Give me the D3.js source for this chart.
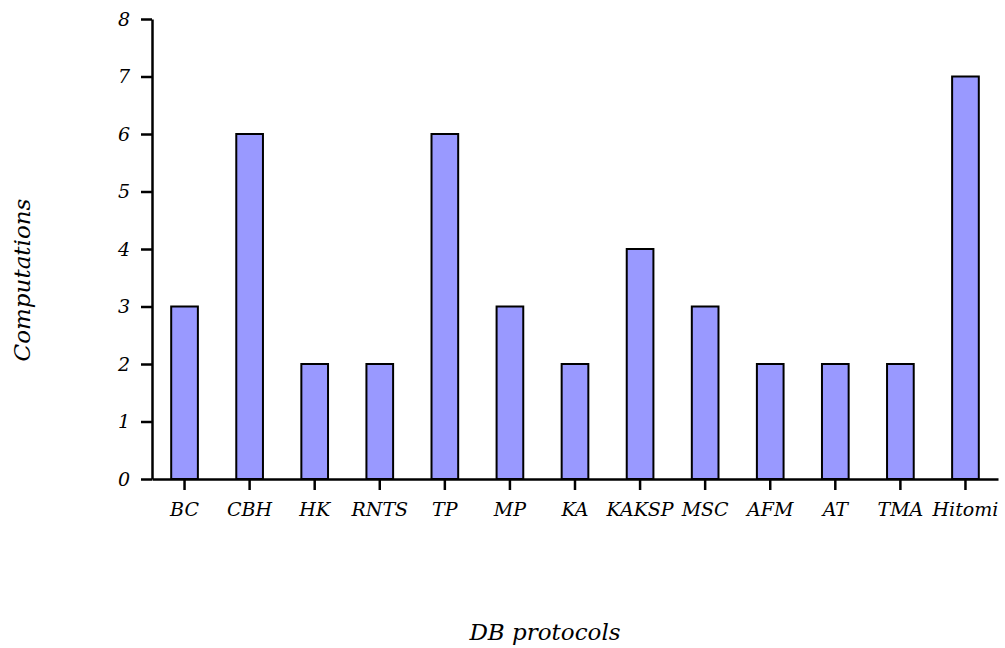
<!DOCTYPE html>
<html>
<head>
<meta charset="utf-8">
<script src="https://cdn.jsdelivr.net/npm/d3@7"></script>
<style>
  body { margin: 0; background: #fff; }
  #chart { width: 1005px; height: 648px; }
  text { font-family: "DejaVu Serif", serif; font-style: italic; fill: #000; }
</style>
</head>
<body>
<div id="chart"></div>
<script>
const protocols = ["BC", "CBH", "HK", "RNTS", "TP", "MP", "KA", "KAKSP", "MSC", "AFM", "AT", "TMA", "Hitomi"];
const computations = [3, 6, 2, 2, 6, 3, 2, 4, 3, 2, 2, 2, 7];
const yTicks = [0, 1, 2, 3, 4, 5, 6, 7, 8];

const width = 1005;
const height = 648;

const margin = { top: 19, left: 152, right: 7, bottom: 169 };

const svg = d3.select("#chart")
    .append("svg")
    .attr("width", width)
    .attr("height", height);

const data = protocols.map(function(p, i) {
    return { name: p, value: computations[i] };
});

const xScale = d3.scaleBand()
    .domain(protocols)
    .range([margin.left, width - margin.right])
    .padding(0);

const yScale = d3.scaleLinear()
    .domain([0, 8])
    .range([height - margin.bottom, margin.top]);

const barW = xScale.bandwidth() * 0.41;

svg.selectAll("rect.bar")
    .data(data)
    .enter()
    .append("rect")
    .attr("class", "bar")
    .attr("x", function(d) { return xScale(d.name) + xScale.bandwidth() / 2 - barW / 2; })
    .attr("y", function(d) { return yScale(d.value); })
    .attr("width", barW)
    .attr("height", function(d) { return yScale(0) - yScale(d.value); })
    .attr("fill", "#9999ff")
    .attr("stroke", "#000")
    .attr("stroke-width", 2);

// x axis
const xAxis = svg.append("g")
    .attr("transform", "translate(0," + yScale(0) + ")")
    .call(d3.axisBottom(xScale).tickSizeInner(11).tickSizeOuter(0).tickPadding(13));

xAxis.select(".domain").attr("stroke-width", 2.5);
xAxis.selectAll(".tick line").attr("stroke-width", 2.5);
xAxis.selectAll(".tick text")
    .style("font-family", "'DejaVu Serif', serif")
    .style("font-style", "italic")
    .style("font-size", "19px");

// y axis
const yAxis = svg.append("g")
    .attr("transform", "translate(" + margin.left + ",0)")
    .call(d3.axisLeft(yScale).tickValues(yTicks).tickSizeInner(11).tickSizeOuter(0).tickPadding(11));

yAxis.select(".domain").attr("stroke-width", 2.5);
yAxis.selectAll(".tick line").attr("stroke-width", 2.5);
yAxis.selectAll(".tick text")
    .style("font-family", "'DejaVu Serif', serif")
    .style("font-style", "italic")
    .style("font-size", "19px");

svg.append("text")
    .attr("x", 545)
    .attr("y", 640)
    .attr("text-anchor", "middle")
    .style("font-size", "23px")
    .text("DB protocols");

svg.append("text")
    .attr("transform", "rotate(-90)")
    .attr("x", -280)
    .attr("y", 30)
    .attr("text-anchor", "middle")
    .style("font-size", "23px")
    .text("Computations");
</script>
</body>
</html>
